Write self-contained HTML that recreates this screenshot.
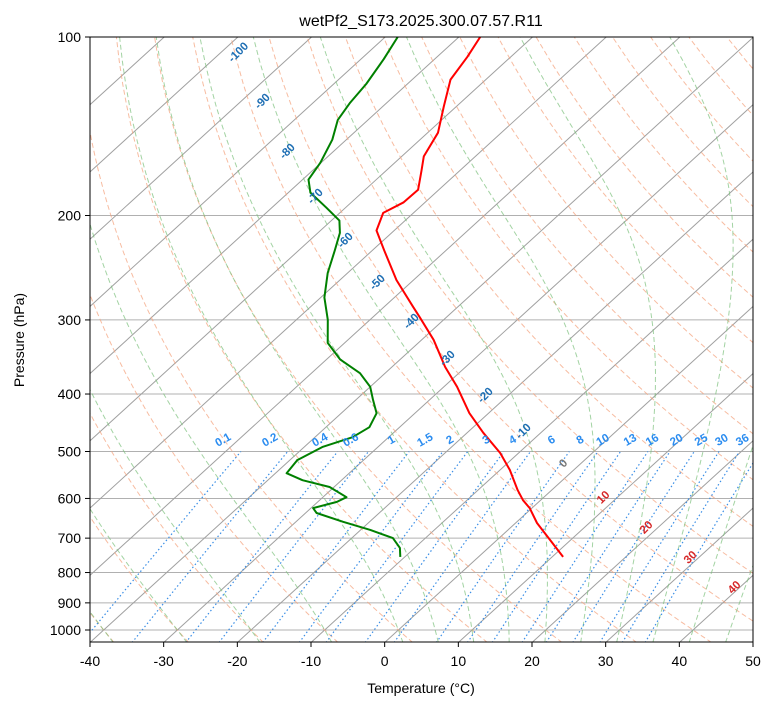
<!DOCTYPE html>
<html><head><meta charset="utf-8"><style>
html,body{margin:0;padding:0;background:#fff;}
svg{display:block;font-family:"Liberation Sans","DejaVu Sans",sans-serif;}
</style></head><body>
<svg id="chart" width="775" height="708" viewBox="0 0 775 708" xmlns="http://www.w3.org/2000/svg">
<defs><clipPath id="clip"><rect x="90" y="37" width="663" height="605"/></clipPath></defs>
<rect x="0" y="0" width="775" height="708" fill="#fff"/>
<text x="421" y="26" font-size="16" text-anchor="middle">wetPf2_S173.2025.300.07.57.R11</text>
<g id="bg" clip-path="url(#clip)"></g>
<g id="series" clip-path="url(#clip)"></g>
<g id="labels"></g>
<rect x="90" y="37" width="663" height="605" fill="none" stroke="#000" stroke-width="1"/>
<g id="axes"></g>
<text x="421" y="693" font-size="14" text-anchor="middle">Temperature (°C)</text>
<text x="24" y="340" font-size="14" text-anchor="middle" transform="rotate(-90 24 340)">Pressure (hPa)</text>
</svg>
<script>
// ---- data ----
const tempP = [100,108,118,131,145,159,168,181,190,198,212,229,257,285,297,324,360,389,431,465,503,537,581,604,623,660,705,753];
const tempT = [-77.1,-75.9,-74.8,-71.7,-68.6,-67.0,-65.2,-62.8,-62.9,-64.1,-62.4,-58.4,-52.3,-46.1,-43.6,-38.4,-32.8,-28.2,-22.6,-17.8,-12.5,-8.7,-4.6,-2.4,-0.3,2.9,7.2,11.5];
const dewP = [100,109,120,129,138,149,163,174,183,194,204,214,229,250,275,300,328,350,369,389,409,431,455,473,491,517,544,559,574,597,608,623,635,657,678,700,727,753];
const dewT = [-88.3,-86.9,-85.6,-85.0,-84.1,-81.9,-80.1,-79.2,-77.0,-72.6,-68.9,-67.0,-65.1,-62.7,-59.5,-55.7,-52.3,-48.1,-43.4,-40.0,-37.7,-35.2,-34.1,-34.9,-37.5,-39.0,-38.5,-35.3,-30.6,-26.8,-27.4,-29.7,-28.5,-23.6,-18.7,-14.4,-12.0,-10.6];
const xTicks = [-40,-30,-20,-10,0,10,20,30,40,50];
const yTicks = [100,200,300,400,500,600,700,800,900,1000];
const mixRatios = [0.1,0.2,0.4,0.6,1,1.5,2,3,4,6,8,10,13,16,20,25,30,36];
const mixLabels = ["0.1","0.2","0.4","0.6","1","1.5","2","3","4","6","8","10","13","16","20","25","30","36"];
const isoLabels = [-100,-90,-80,-70,-60,-50,-40,-30,-20,-10];
// label anchor positions (layout, px)
const isoLabelX = [238,262,287,315,345,377,411,447,485,523];
const isoLabelY = [52,101,151,196,240,282,321,358,395,431];

// ---- axes ----
const X0=90,X1=753,Y0=37,YB=642.5,PXC=663/90,DEC=593,SK=663/605;
function Y(p){return Y0+DEC*Math.log10(p/100);}
function X(T,p){return X0+(T+40)*PXC+(YB-Y(p))*SK;}
const NS="http://www.w3.org/2000/svg";
function mk(tag,attrs,parent){const e=document.createElementNS(NS,tag);for(const k in attrs)e.setAttribute(k,attrs[k]);parent.appendChild(e);return e;}
const bg=document.getElementById('bg'),ser=document.getElementById('series'),lab=document.getElementById('labels'),ax=document.getElementById('axes');
function pathFrom(Ts,Ps){return Ts.map((t,i)=>(i?'L':'M')+X(t,Ps[i]).toFixed(1)+' '+Y(Ps[i]).toFixed(1)).join(' ');}
const pgrid=[];for(let p=1050;p>=100;p-=10)pgrid.push(p);

yTicks.forEach(p=>{const l=mk('line',{x1:X0,x2:X1,y1:Y(p),y2:Y(p),stroke:'#b0b0b0','stroke-width':1},bg);

});
for(let t=-160;t<=50;t+=10){const l=mk('line',{x1:X(t,1050),y1:Y(1050),x2:X(t,100),y2:Y(100),stroke:'#a0a0a0','stroke-width':1},bg);

}
for(let t0=-40;t0<=250;t0+=10){const Ts=pgrid.map(p=>(t0+273.15)*Math.pow(p/1000,0.2857)-273.15);
const e=mk('path',{d:pathFrom(Ts,pgrid),fill:'none',stroke:'#f4a582','stroke-opacity':0.75,'stroke-width':1,'stroke-dasharray':'5,3'},bg);

}
function rs(T,p){const es=6.112*Math.exp(17.67*(T-273.15)/(T-29.65));return 0.622*es/(p-es);}
function dTdp(T,p){const r=rs(T,p),Rd=287.04,Lv=2.501e6,Cp=1005.7;return (Rd*T+Lv*r)/(p*(Cp+Lv*Lv*r*0.622/(Rd*T*T)));}
const moistStarts=[-40,-30,-20,-10,0,5,10,15,20,25,30,35,40,45,50];
moistStarts.forEach(t0=>{let T=t0+273.15,p=1000;const Ts=[],Ps=[];
let Tb=T;for(let q=1000;q<1050;q+=1){Tb+=dTdp(Tb,q)*1;}
Ts.push(Tb-273.15);Ps.push(1050);Ts.push(t0);Ps.push(1000);
while(p>100){const h=-2;T+=dTdp(T,p)*h;p+=h;if(p%10===0){Ts.push(T-273.15);Ps.push(p);}}
const e=mk('path',{d:pathFrom(Ts,Ps),fill:'none',stroke:'#7cc07c','stroke-opacity':0.7,'stroke-width':1,'stroke-dasharray':'5,3'},bg);

});
const mixP=[];for(let p=1050;p>=500;p-=25)mixP.push(p);
mixRatios.forEach((w,i)=>{const Ts=mixP.map(p=>{const e=p*w/(622+w);const l=Math.log(e/6.112);return 243.5*l/(17.67-l);});
const e=mk('path',{d:pathFrom(Ts,mixP),fill:'none',stroke:'#3a8ee6','stroke-width':1.2,'stroke-dasharray':'1.5,2.5'},bg);


const x=X(Ts[Ts.length-1],500)-16,y=443;
const t=mk('text',{x:x,y:y,'font-size':11.5,'font-weight':'bold',fill:'#2a8cf0','text-anchor':'middle',transform:`rotate(-30 ${x} ${y})`},lab);
t.textContent=mixLabels[i];

});
isoLabels.forEach((t0,i)=>{const x=isoLabelX[i],y=isoLabelY[i];
const t=mk('text',{x:x,y:y+4,'font-size':11.5,'font-weight':'bold',fill:'#1f6fb4','text-anchor':'middle',transform:`rotate(-45 ${x} ${y})`},lab);
t.textContent=String(t0);

});
[[0,'#777',563,463],[10,'#d62728',603,497],[20,'#d62728',646,527],[30,'#d62728',690,557],[40,'#d62728',734,587]].forEach(a=>{
const t=mk('text',{x:a[2],y:a[3]+4,'font-size':11.5,'font-weight':'bold',fill:a[1],'text-anchor':'middle',transform:`rotate(-45 ${a[2]} ${a[3]})`},lab);
t.textContent=String(a[0]);

});
const tl=mk('path',{d:pathFrom(tempT,tempP),fill:'none',stroke:'#ff0000','stroke-width':2,'stroke-linejoin':'round'},ser);


const dl=mk('path',{d:pathFrom(dewT,dewP),fill:'none',stroke:'#008000','stroke-width':2,'stroke-linejoin':'round'},ser);


xTicks.forEach(t=>{const x=X0+(t+40)*PXC;mk('line',{x1:x,x2:x,y1:642,y2:647,stroke:'#000'},ax);
const e=mk('text',{x:x,y:666,'font-size':14,'text-anchor':'middle'},ax);e.textContent=String(t);

});
yTicks.forEach(p=>{const y=Y(p);mk('line',{x1:85,x2:90,y1:y,y2:y,stroke:'#000'},ax);
const e=mk('text',{x:81,y:y+5,'font-size':14,'text-anchor':'end'},ax);e.textContent=String(p);

});
</script>
</body></html>
